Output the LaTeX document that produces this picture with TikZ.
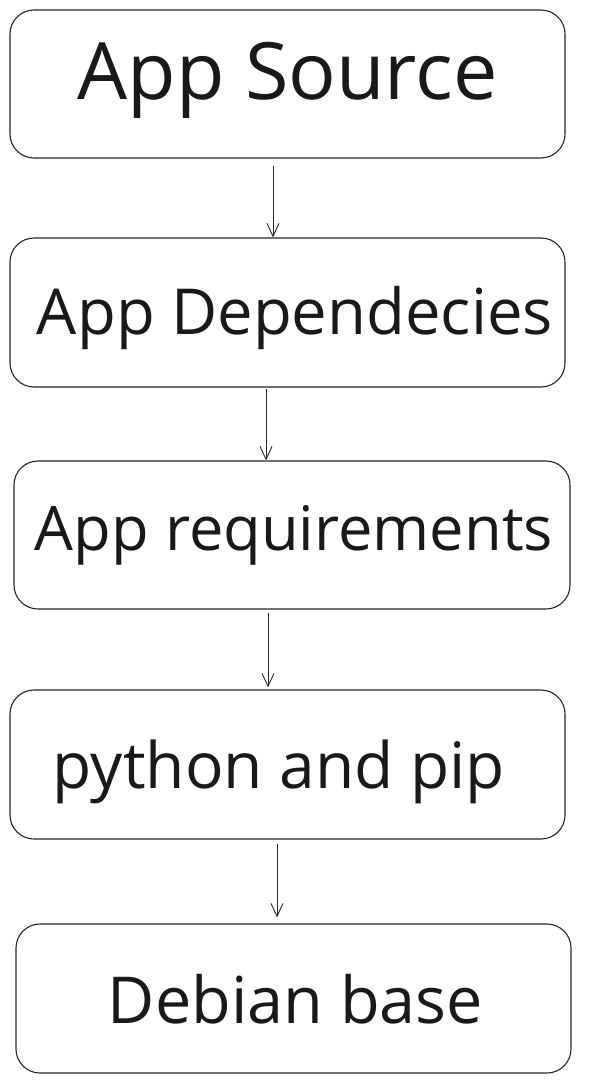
\documentclass[tikz,border=0pt]{standalone}
\usepackage{fontspec}
\setmainfont{Open Sans}
\usetikzlibrary{arrows.meta}
\tikzset{
  box/.style={draw=black!85, line width=1.1pt, rounded corners=24pt, fill=white},
  lbl/.style={inner sep=0pt, text=black!90},
  arr/.style={draw=black!85, line width=0.9pt, -{Straight Barb[length=13pt,width=12pt,line width=0.9pt]}}
}
\newcommand{\boxtext}[2]{\resizebox{#1pt}{!}{\fontsize{40}{48}\selectfont #2}}
\begin{document}
\begin{tikzpicture}[x=1pt,y=-1pt]
\useasboundingbox[fill=white] (0,0) rectangle (610,1083);
% boxes
\node[box, minimum width=555pt, minimum height=148pt] (b1) at (287.5,84) {};
\node[box, minimum width=555pt, minimum height=149pt] (b2) at (287.5,312.5) {};
\node[box, minimum width=556pt, minimum height=148pt] (b3) at (292,535) {};
\node[box, minimum width=555pt, minimum height=149pt] (b4) at (287.5,764.5) {};
\node[box, minimum width=555pt, minimum height=149pt] (b5) at (293.5,998.5) {};
% texts
\node[lbl] (t1) at (287.5,80) {\boxtext{420}{App Source}};
\node[lbl] (t2) at (295,318) {\boxtext{516}{App Dependecies}};
\node[lbl] (t3) at (294,535) {\boxtext{518}{App requirements}};
\node[lbl] (t4) at (279,772) {\boxtext{452}{python and pip}};
\node[lbl] (t5) at (295.5,999) {\boxtext{375}{Debian base}};
% arrows
\draw[arr] ([xshift=-14.5pt,yshift=-7pt]b1.south) -- ([xshift=-14.5pt]b2.north);
\draw[arr] ([xshift=-21.5pt,yshift=-1pt]b2.south) -- ([xshift=-26pt]b3.north);
\draw[arr] ([xshift=-24pt,yshift=-3pt]b3.south) -- ([xshift=-19.5pt,yshift=2pt]b4.north);
\draw[arr] ([xshift=-10.5pt,yshift=-4pt]b4.south) -- ([xshift=-16.5pt,yshift=6pt]b5.north);
\end{tikzpicture}
\end{document}
